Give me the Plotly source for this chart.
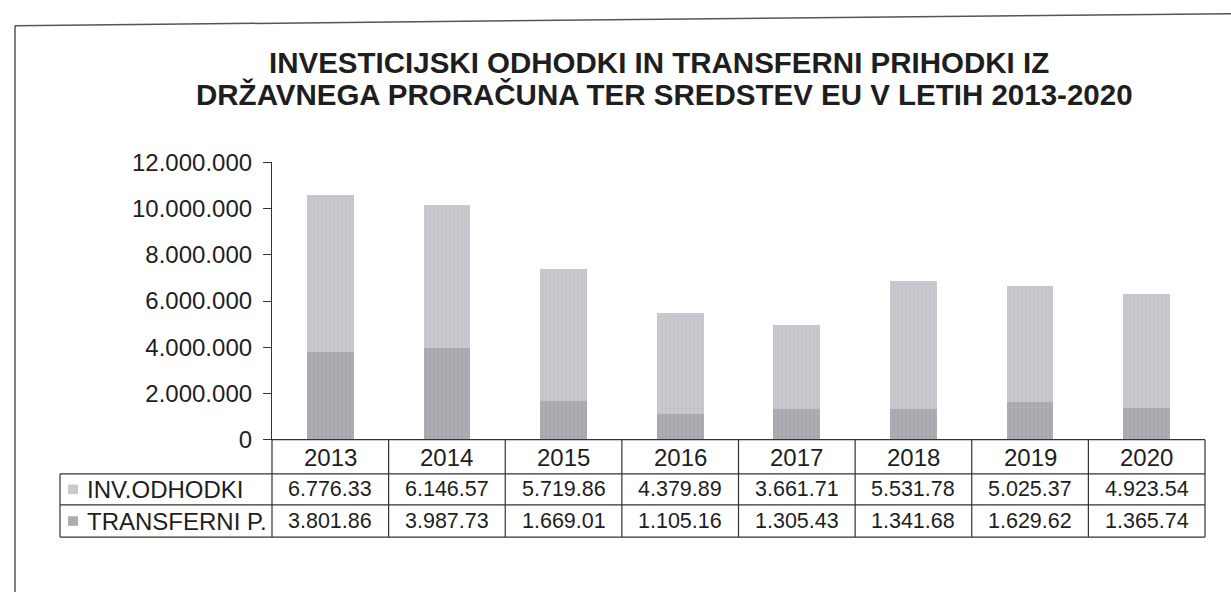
import plotly.graph_objects as go

# ---- data ----
years = ["2013", "2014", "2015", "2016", "2017", "2018", "2019", "2020"]
inv_odhodki = [6776330, 6146570, 5719860, 4379890, 3661710, 5531780, 5025370, 4923540]
transferni_p = [3801860, 3987730, 1669010, 1105160, 1305430, 1341680, 1629620, 1365740]
inv_labels = ["6.776.33", "6.146.57", "5.719.86", "4.379.89", "3.661.71", "5.531.78", "5.025.37", "4.923.54"]
trans_labels = ["3.801.86", "3.987.73", "1.669.01", "1.105.16", "1.305.43", "1.341.68", "1.629.62", "1.365.74"]
series_names = ["INV.ODHODKI", "TRANSFERNI P."]
y_ticks = [0, 2000000, 4000000, 6000000, 8000000, 10000000, 12000000]
y_ticktext = ["0", "2.000.000", "4.000.000", "6.000.000", "8.000.000", "10.000.000", "12.000.000"]
title_lines = ["INVESTICIJSKI ODHODKI IN TRANSFERNI PRIHODKI IZ",
               "DRŽAVNEGA PRORAČUNA TER SREDSTEV EU V LETIH 2013-2020"]

# ---- style ----
W, H = 1231, 605
C_INV = "#c9c9cf"
C_TRANS = "#acacb3"
TXT = "#1e1e1e"
LINE = "#333333"
FONT = "Liberation Sans, Arial, sans-serif"


def cal(y):
    # vertical position in page pixels
    return (y - 14.3) / 0.951


X0, X1 = 272, 1205
Y0, Y12 = cal(438), cal(162)
ROWS = [cal(438), cal(472), cal(503), cal(535)]
LEFT = 60


def px(x):
    return x / W


def py(y):
    return 1 - y / H


n = len(years)
colw = (X1 - X0) / n

fig = go.Figure()
fig.add_trace(go.Bar(x=list(range(n)), y=transferni_p, name=series_names[1], width=0.4,
                     marker=dict(color=C_TRANS, line=dict(width=0),
                                 pattern=dict(shape=".", fgcolor="#9c9ca4", bgcolor=C_TRANS,
                                              size=4, solidity=0.35))))
fig.add_trace(go.Bar(x=list(range(n)), y=inv_odhodki, name=series_names[0], width=0.4,
                     marker=dict(color=C_INV, line=dict(width=0),
                                 pattern=dict(shape=".", fgcolor="#b9b9c1", bgcolor=C_INV,
                                              size=4, solidity=0.35))))

shapes = []
annotations = []

# outer scan frame
shapes.append(dict(type="line", xref="paper", yref="paper", x0=px(15), x1=px(1231), y0=py(cal(26)), y1=py(cal(14)),
                   line=dict(color="#555", width=1.5)))
shapes.append(dict(type="line", xref="paper", yref="paper", x0=px(15), x1=px(15), y0=py(cal(26)), y1=0,
                   line=dict(color="#555", width=1.5)))

# table lines
shapes.append(dict(type="line", xref="paper", yref="paper", x0=px(X0), x1=px(X1), y0=py(ROWS[0]), y1=py(ROWS[0]),
                   line=dict(color=LINE, width=1.2)))
for yy in ROWS[1:]:
    shapes.append(dict(type="line", xref="paper", yref="paper", x0=px(LEFT), x1=px(X1), y0=py(yy), y1=py(yy),
                       line=dict(color=LINE, width=1.2)))
for i in range(n + 1):
    xx = X0 + i * colw
    shapes.append(dict(type="line", xref="paper", yref="paper", x0=px(xx), x1=px(xx), y0=py(ROWS[0]), y1=py(ROWS[3]),
                       line=dict(color=LINE, width=1.2)))
shapes.append(dict(type="line", xref="paper", yref="paper", x0=px(LEFT), x1=px(LEFT), y0=py(ROWS[1]), y1=py(ROWS[3]),
                   line=dict(color=LINE, width=1.2)))

# table text
for i in range(n):
    cx = X0 + (i + 0.5) * colw
    annotations.append(dict(xref="paper", yref="paper", x=px(cx), y=py((ROWS[0] + ROWS[1]) / 2 + 1),
                            text=years[i], showarrow=False, xanchor="center", yanchor="middle",
                            font=dict(family=FONT, size=24, color=TXT)))
    for r, txt in enumerate([inv_labels[i], trans_labels[i]]):
        annotations.append(dict(xref="paper", yref="paper", x=px(cx), y=py((ROWS[r + 1] + ROWS[r + 2]) / 2),
                                text=txt, showarrow=False, xanchor="center", yanchor="middle",
                                font=dict(family=FONT, size=21.5, color=TXT)))

# row labels with legend keys
for r, (name, col) in enumerate(zip(series_names, [C_INV, C_TRANS])):
    yc = (ROWS[r + 1] + ROWS[r + 2]) / 2
    shapes.append(dict(type="rect", xref="paper", yref="paper", x0=px(68), x1=px(78), y0=py(yc - 5), y1=py(yc + 5),
                       fillcolor=col, line=dict(width=0)))
    annotations.append(dict(xref="paper", yref="paper", x=px(85), y=py(yc), text=name, showarrow=False,
                            xanchor="left", yanchor="middle", font=dict(family=FONT, size=24, color=TXT)))

# title
for line, yc, xc in zip(title_lines, [cal(63), cal(94)], [659, 665]):
    annotations.append(dict(xref="paper", yref="paper", x=px(xc), y=py(yc), text="<b>" + line + "</b>",
                            showarrow=False, xanchor="center", yanchor="middle",
                            font=dict(family=FONT, size=29.5, color=TXT)))

fig.update_layout(
    width=W, height=H, margin=dict(l=0, r=0, t=0, b=0, pad=0),
    paper_bgcolor="white", plot_bgcolor="white",
    barmode="stack", showlegend=False,
    shapes=shapes, annotations=annotations,
    xaxis=dict(domain=[px(X0), px(X1)], range=[-0.5, n - 0.5], showticklabels=False, showgrid=False,
               zeroline=False, showline=False, ticks=""),
    yaxis=dict(domain=[py(Y0), py(Y12)], range=[0, 12000000], tickvals=y_ticks, ticktext=y_ticktext,
               showgrid=False, zeroline=False, showline=True, linecolor=LINE, linewidth=1.2,
               ticks="outside", ticklen=8, tickcolor=LINE, ticklabelstandoff=6,
               tickfont=dict(family=FONT, size=24, color=TXT)),
)

fig.write_html("out.html", config={"displayModeBar": False},
               post_script="document.body.style.margin='0';document.body.style.overflow='hidden';")
